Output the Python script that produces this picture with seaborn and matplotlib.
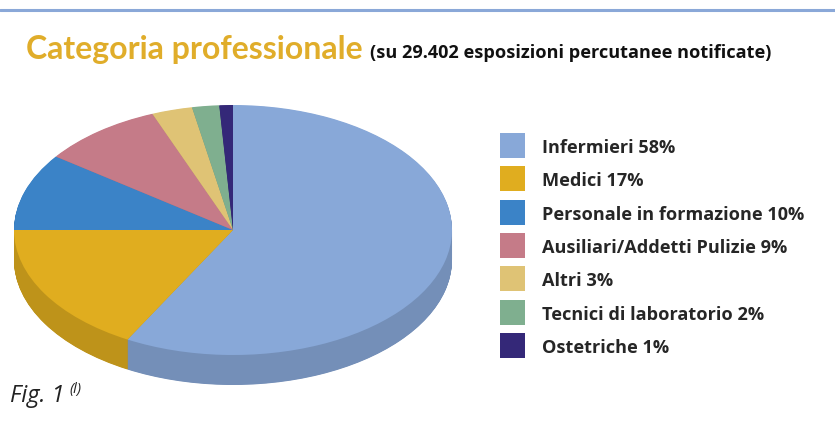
import matplotlib
matplotlib.use('Agg')
import matplotlib.pyplot as plt
import seaborn as sns
import numpy as np
from matplotlib.lines import Line2D

categories = ['Infermieri', 'Medici', 'Personale in formazione',
              'Ausiliari/Addetti Pulizie', 'Altri', 'Tecnici di laboratorio', 'Ostetriche']
values = [58, 17, 10, 9, 3, 2, 1]
colors = ['#88A8D8', '#E0AD1F', '#3B83C7', '#C57B88', '#DFC375', '#7FAF8F', '#342878']

W, H = 835, 426

sns.set_theme(style='white')
plt.rcParams['font.family'] = ['Open Sans', 'DejaVu Sans']

pal = sns.color_palette(colors)
side = [tuple(np.array(c) * 0.85) for c in pal]
labels = ['%s %d%%' % (c, v) for c, v in zip(categories, values)]

fig = plt.figure(figsize=(W / 100, H / 100), dpi=100)

# pie is squashed, so axes box = ellipse in pixels plus the rim below
ax = fig.add_axes([14 / W, (H - 385) / H, 438 / W, 280 / H])
depth = 30 / 125
for off in np.linspace(depth, 0.005, 70):
    ax.pie(values, colors=side, startangle=90, counterclock=False,
           center=(0, -off), wedgeprops={'linewidth': 0})
wedges, _ = ax.pie(values, colors=pal, startangle=90, counterclock=False,
                   wedgeprops={'linewidth': 0})
ax.set_aspect('auto')
ax.set_xlim(-1, 1)
ax.set_ylim(-1 - depth, 1)

leg = fig.legend(wedges, labels, loc='upper left', bbox_to_anchor=(500 / W, 1 - 133 / H),
                 frameon=False, borderpad=0, borderaxespad=0, handlelength=1.374,
                 handleheight=1.737, handletextpad=0.93, labelspacing=0.46,
                 prop={'family': 'Open Sans', 'weight': 'bold', 'size': 13.1})
for t in leg.get_texts():
    t.set_y(-1.5)

fig.add_artist(Line2D([0, 1], [1 - 9.5 / H] * 2, color='#8AA8D8', lw=2.2))
fig.text(26 / W, 1 - 59 / H, 'Categoria professionale', color='#E0AD2A',
         fontsize=23, fontweight='bold', family='Lato', va='baseline')
fig.text(370 / W, 1 - 58 / H, '(su 29.402 esposizioni percutanee notificate)',
         color='#111111', fontsize=13.1, fontweight='bold', va='baseline')
fig.text(10 / W, 1 - 402 / H, 'Fig. 1', color='#222222', fontsize=17,
         style='italic', va='baseline')
fig.text(69 / W, 1 - 393 / H, '(l)', color='#222222', fontsize=10.5,
         style='italic', va='baseline')

fig.savefig('out.png', dpi=100)
